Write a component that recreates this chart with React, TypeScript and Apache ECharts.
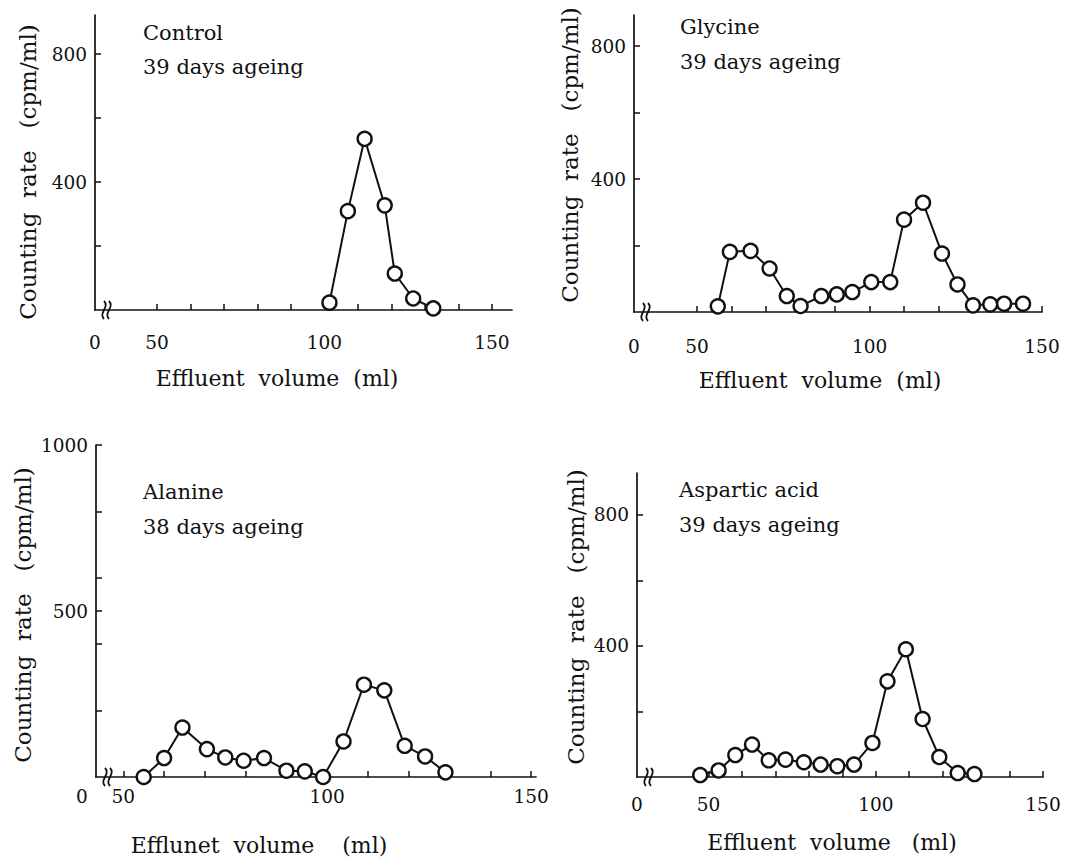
import React, { useEffect, useRef } from "react";
import * as echarts from "echarts";

// ---- data ----
const CONTROL_X = [101.5, 107, 112, 118, 121, 126.5, 132.5];
const CONTROL_Y = [23, 309, 535, 327, 114, 36, 5];

const GLYCINE_X = [56, 59.5, 65.5, 71, 76, 80, 86, 90.5, 95, 100.5, 106, 110, 115.5, 121, 125.5, 130, 135, 139, 144.5];
const GLYCINE_Y = [17, 181, 184, 131, 48, 18, 48, 53, 60, 90, 90, 278, 329, 176, 83, 20, 23, 25, 25];

const ALANINE_X = [55, 60, 64.5, 70.5, 75, 79.5, 84.5, 90, 94.5, 99, 104, 109, 114, 119, 124, 129];
const ALANINE_Y = [0, 57, 149, 84, 59, 49, 57, 19, 17, 0, 107, 278, 261, 94, 62, 14];

const ASPARTIC_X = [47.5, 53, 58, 63, 68, 73, 78.5, 83.5, 88.5, 93.5, 99, 103.5, 109, 114, 119, 124.5, 129.5];
const ASPARTIC_Y = [6, 20, 67, 99, 51, 53, 45, 38, 33, 38, 104, 292, 390, 177, 61, 12, 9];

const X_TICKS = [50, 60, 70, 80, 90, 100, 110, 120, 130, 140, 150];
const X_LABELS = [50, 100, 150];
const Y_TICKS_800 = [200, 400, 600, 800];
const Y_LABELS_800 = [400, 800];
const Y_TICKS_1000 = [200, 400, 500, 600, 800, 1000];
const Y_LABELS_1000 = [500, 1000];

const TITLES = ["Control", "Glycine", "Alanine", "Aspartic acid"];
const SUBTITLES = ["39 days ageing", "39 days ageing", "38 days ageing", "39 days ageing"];
const X_NAMES = ["Effluent  volume  (ml)", "Effluent  volume  (ml)", "Efflunet  volume    (ml)", "Effluent  volume   (ml)"];
const Y_NAME = "Counting  rate   (cpm/ml)";

const FONT = '"DejaVu Serif", "Liberation Serif", serif';
const INK = "#111";

const pair = (xs: number[], ys: number[]) => xs.map((x, i) => [x, ys[i]]);

// layout of each panel
const PANELS = [
  { left: 95, top: 15, width: 417, height: 295, xmin: 31.5, xmax: 156, ymax: 922, yTicks: Y_TICKS_800, yLabels: Y_LABELS_800, labelMargin: 23, zeroShift: 0 },
  { left: 634, top: 15, width: 408, height: 297, xmin: 31.7, xmax: 150, ymax: 894, yTicks: Y_TICKS_800, yLabels: Y_LABELS_800, labelMargin: 25, zeroShift: 0 },
  { left: 96, top: 445, width: 440, height: 332, xmin: 43.3, xmax: 151.2, ymax: 1000, yTicks: Y_TICKS_1000, yLabels: Y_LABELS_1000, labelMargin: 10, zeroShift: 28 },
  { left: 637, top: 473, width: 406, height: 304, xmin: 28.6, xmax: 150, ymax: 928, yTicks: Y_TICKS_800, yLabels: Y_LABELS_800, labelMargin: 18, zeroShift: 0 },
];

const SERIES = [
  pair(CONTROL_X, CONTROL_Y),
  pair(GLYCINE_X, GLYCINE_Y),
  pair(ALANINE_X, ALANINE_Y),
  pair(ASPARTIC_X, ASPARTIC_Y),
];

// text positions
const TITLE_POS = [
  [143, 33, 67],
  [680, 27, 62],
  [143, 492, 527],
  [679, 490, 525],
];
const XNAME_POS = [
  [277, 378],
  [820, 380],
  [259, 845],
  [832, 842],
];
const YNAME_POS = [
  [28, 172],
  [570, 155],
  [23, 615],
  [576, 617],
];

function breakMark(x: number, y: number) {
  const curve = (dx: number) => ({
    type: "bezierCurve",
    shape: {
      x1: x + dx, y1: y - 9,
      x2: x + dx, y2: y + 9,
      cpx1: x + dx + 6, cpy1: y - 3,
      cpx2: x + dx - 6, cpy2: y + 3,
    },
    style: { stroke: INK, lineWidth: 1.8, fill: "none" },
    z: 10,
  });
  return { type: "group", children: [curve(0), curve(5)] };
}

export default function App() {
  const ref = useRef<HTMLDivElement>(null);

  useEffect(() => {
    if (!ref.current) return;
    const chart = echarts.init(ref.current, null, { renderer: "svg" });

    const grid = PANELS.map((p) => ({ left: p.left, top: p.top, width: p.width, height: p.height, containLabel: false }));

    const xAxis = PANELS.map((p, i) => ({
      type: "value",
      gridIndex: i,
      min: p.xmin,
      max: p.xmax,
      splitLine: { show: false },
      axisLine: { show: true, lineStyle: { color: INK, width: 1.7 } },
      axisTick: { show: true, inside: true, length: 6, customValues: X_TICKS, lineStyle: { color: INK, width: 1.5 } },
      axisLabel: {
        show: true,
        customValues: [p.xmin, ...X_LABELS],
        margin: p.labelMargin,
        color: INK,
        fontFamily: FONT,
        fontSize: 18.5,
        formatter: (v: number) => (v < 45 ? "{z|0}" : "{n|" + String(Math.round(v)) + "}"),
        rich: {
          z: { fontFamily: FONT, fontSize: 18.5, color: INK, padding: [0, p.zeroShift, 0, 0] },
          n: { fontFamily: FONT, fontSize: 18.5, color: INK },
        },
      },
    }));

    const yAxis = PANELS.map((p, i) => ({
      type: "value",
      gridIndex: i,
      min: 0,
      max: p.ymax,
      splitLine: { show: false },
      axisLine: { show: true, lineStyle: { color: INK, width: 1.7 } },
      axisTick: { show: true, inside: true, length: 6, customValues: p.yTicks, lineStyle: { color: INK, width: 1.5 } },
      axisLabel: {
        show: true,
        customValues: p.yLabels,
        margin: 8,
        color: INK,
        fontFamily: FONT,
        fontSize: 18.5,
        formatter: (v: number) => String(v),
      },
    }));

    const series = SERIES.map((data, i) => ({
      type: "line",
      name: TITLES[i],
      xAxisIndex: i,
      yAxisIndex: i,
      data,
      symbol: "circle",
      symbolSize: 14,
      showSymbol: true,
      lineStyle: { color: INK, width: 2 },
      itemStyle: { color: "#fff", borderColor: INK, borderWidth: 2.4 },
      z: 5,
    }));

    const graphics: any[] = [];
    PANELS.forEach((p, i) => {
      const [tx, ty1, ty2] = TITLE_POS[i];
      graphics.push({
        type: "text", x: tx, y: ty1,
        style: { text: TITLES[i], fontFamily: FONT, fontSize: 21, fill: INK, textAlign: "left", textVerticalAlign: "middle" },
      });
      graphics.push({
        type: "text", x: tx, y: ty2,
        style: { text: SUBTITLES[i], fontFamily: FONT, fontSize: 21, fill: INK, textAlign: "left", textVerticalAlign: "middle" },
      });
      const [nx, ny] = XNAME_POS[i];
      graphics.push({
        type: "text", x: nx, y: ny,
        style: { text: X_NAMES[i], fontFamily: FONT, fontSize: 22, fill: INK, textAlign: "center", textVerticalAlign: "middle" },
      });
      const [yx, yy] = YNAME_POS[i];
      graphics.push({
        type: "text", x: yx, y: yy, rotation: Math.PI / 2,
        style: { text: Y_NAME, fontFamily: FONT, fontSize: 23, fill: INK, textAlign: "center", textVerticalAlign: "middle" },
      });
      graphics.push(breakMark(p.left + 9, p.top + p.height));
    });

    chart.setOption({
      animation: false,
      backgroundColor: "#fff",
      grid,
      xAxis,
      yAxis,
      series,
      graphic: graphics,
    });

    return () => chart.dispose();
  }, []);

  return (
    <div
      ref={ref}
      style={{ position: "absolute", left: 0, top: 0, width: 1068, height: 858, background: "#fff" }}
    />
  );
}
